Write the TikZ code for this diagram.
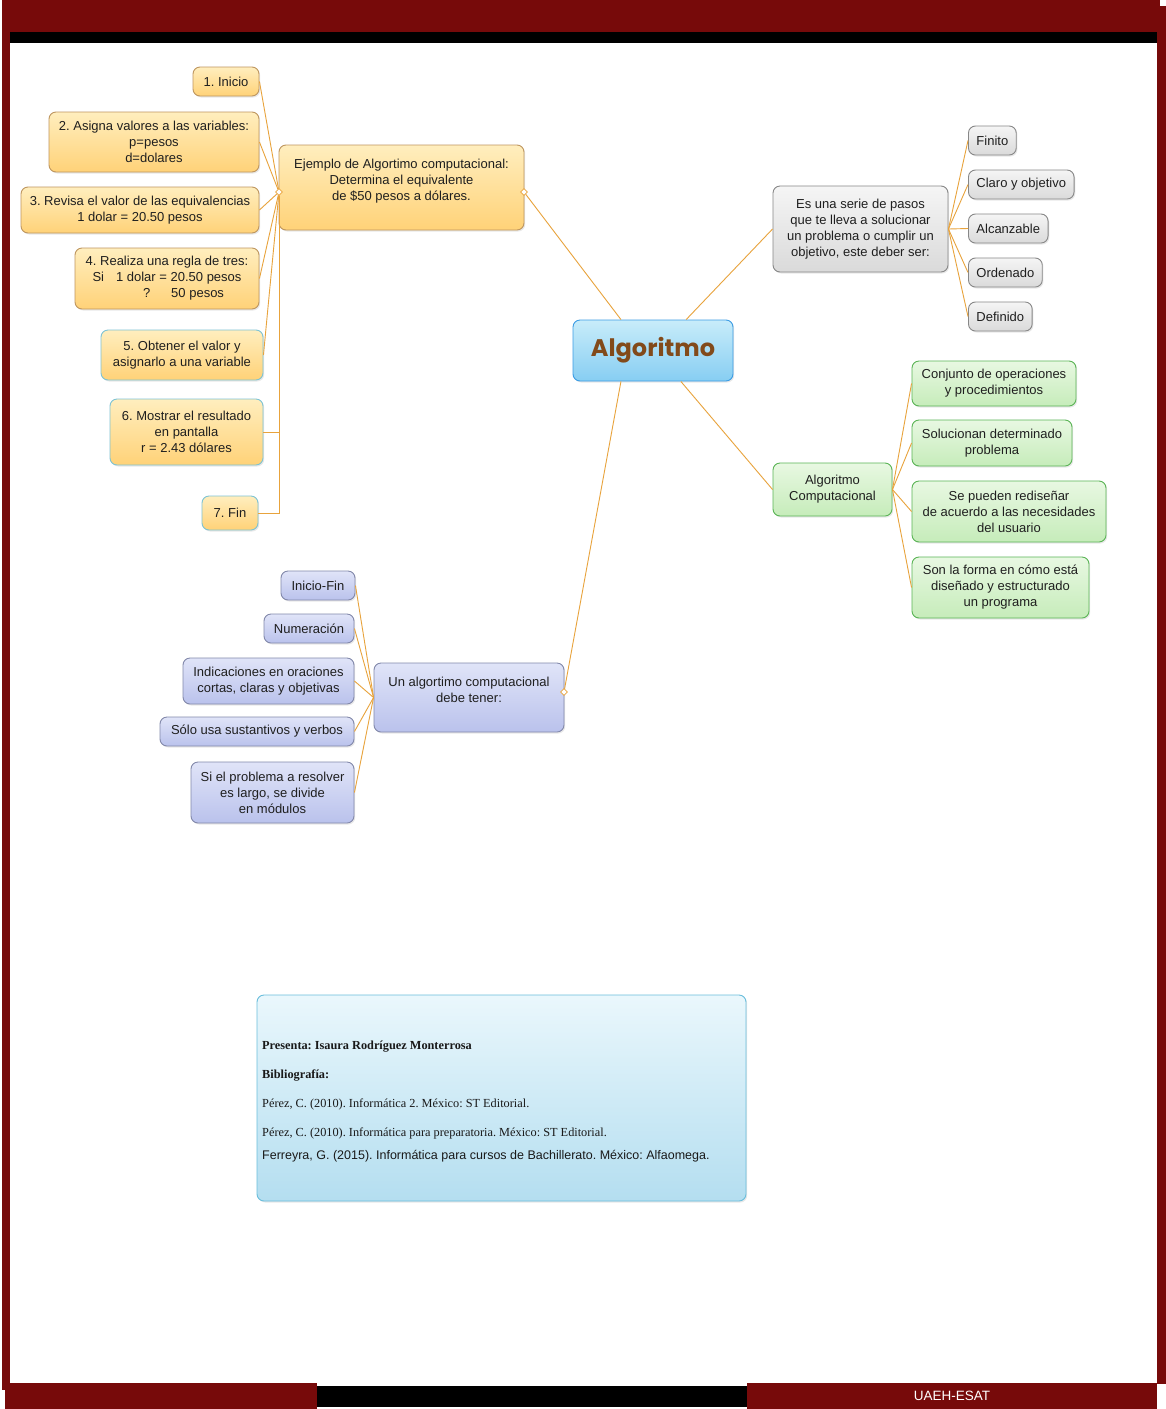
\documentclass[tikz,border=0pt]{standalone}
\usepackage{fontspec}
\setmainfont{Liberation Sans}
\newfontfamily\bibfont{Liberation Serif}
\newfontfamily\titlefont{Poppins}
\frenchspacing
\usepackage{xcolor}
\definecolor{uaehred}{RGB}{119, 10, 10}
\definecolor{linkorange}{RGB}{232, 163, 60}
\definecolor{goldtop}{RGB}{255, 238, 190}
\definecolor{goldbot}{RGB}{255, 210, 120}
\definecolor{goldedge}{RGB}{190, 150, 95}
\definecolor{tealedge}{RGB}{125, 195, 212}
\definecolor{greytop}{RGB}{245, 245, 245}
\definecolor{greybot}{RGB}{218, 218, 218}
\definecolor{greyedge}{RGB}{135, 135, 135}
\definecolor{greentop}{RGB}{232, 248, 226}
\definecolor{greenbot}{RGB}{198, 236, 186}
\definecolor{greenedge}{RGB}{90, 180, 85}
\definecolor{lilactop}{RGB}{224, 228, 248}
\definecolor{lilacbot}{RGB}{186, 194, 236}
\definecolor{lilacedge}{RGB}{130, 136, 170}
\definecolor{skytop}{RGB}{200, 236, 250}
\definecolor{skybot}{RGB}{135, 206, 242}
\definecolor{skyedge}{RGB}{60, 156, 228}
\definecolor{bibtop}{RGB}{234, 247, 252}
\definecolor{bibbot}{RGB}{180, 222, 240}
\definecolor{bibedge}{RGB}{105, 190, 220}
\definecolor{titlebrown}{RGB}{130, 74, 26}
\usepackage{tikz}
\usetikzlibrary{
    shapes.geometric,
    positioning,
    shadows
}

\begin{document}
\begin{tikzpicture}[x=1pt, y=-1pt,
    box/.style={rounded corners=7pt, line width=0.9pt, align=center, inner sep=2pt,
        font=\fontsize{13}{16}\selectfont, text=black!88,
        drop shadow={opacity=0.18, shadow xshift=1.2pt, shadow yshift=-1.5pt}},
    goldbox/.style={box, draw=goldedge, top color=goldtop, bottom color=goldbot},
    tealbox/.style={box, draw=tealedge, top color=goldtop, bottom color=goldbot},
    greybox/.style={box, draw=greyedge, top color=greytop, bottom color=greybot},
    greenbox/.style={box, draw=greenedge, top color=greentop, bottom color=greenbot},
    lilacbox/.style={box, draw=lilacedge, top color=lilactop, bottom color=lilacbot},
    leaf/.style={greybox, anchor=west, inner xsep=8pt, minimum height=29pt},
    link/.style={draw=linkorange, line width=0.9pt},
    hubmark/.style={diamond, draw=linkorange, fill=white, inner sep=0pt, minimum size=7pt, line width=0.7pt},
    bibline/.style={anchor=west, inner sep=0pt, text=black!90}
]
    \useasboundingbox (0,0) rectangle (1166,1409);

    % page frame
    \fill[white] (0,0) rectangle (1166,1409);
    \fill[uaehred] (2,0) rectangle (1160,32);
    \fill[uaehred] (1157,6) rectangle (1166,1384);
    \fill[uaehred] (2,8) rectangle (10,1390);
    \fill[black] (10,32) rectangle (1157,43);
    \fill[uaehred] (5,1383) rectangle (317,1409);
    \fill[black] (317,1386) rectangle (747,1407);
    \fill[uaehred] (747,1383) rectangle (1157,1409);
    \node[text=white, font=\fontsize{13.5}{16}\selectfont] (uaeh) at (952,1396) {UAEH-ESAT};

    % centre
    \node[box, draw=skyedge, top color=skytop, bottom color=skybot, minimum width=160pt, minimum height=61pt,
        font=\titlefont\bfseries\fontsize{24}{28}\selectfont, text=titlebrown] (algoritmo) at (653,350.5) {Algoritmo};

    % example steps
    \node[goldbox, minimum width=245pt, minimum height=85pt] (ejemplo) at (401.5,187.5)
        {Ejemplo de Algortimo computacional:\\Determina el equivalente\\de \$50 pesos a dólares.\\\mbox{}};
    \node[goldbox, minimum width=66pt, minimum height=29pt] (inicio) at (226,81.5) {1. Inicio};
    \node[goldbox, minimum width=210pt, minimum height=60pt] (asigna) at (154,142)
        {2. Asigna valores a las variables:\\p=pesos\\d=dolares};
    \node[goldbox, minimum width=238pt, minimum height=46pt] (revisa) at (140,210)
        {3. Revisa el valor de las equivalencias\\1 dolar = 20.50 pesos};
    \node[goldbox, minimum width=184pt, minimum height=61pt] (realiza) at (167,278.5)
        {4. Realiza una regla de tres:\\Si\hspace{12pt}1 dolar = 20.50 pesos\\\hspace*{33pt}?\hspace{21pt}50 pesos};
    \node[tealbox, minimum width=162pt, minimum height=50pt] (obtener) at (182,355)
        {5. Obtener el valor y\\asignarlo a una variable};
    \node[tealbox, minimum width=153pt, minimum height=66pt] (mostrar) at (186.5,432)
        {6. Mostrar el resultado\\en pantalla\\r = 2.43 dólares};
    \node[tealbox, minimum width=56pt, minimum height=34pt] (fin) at (230,513) {7. Fin};
    \node[hubmark] (ejl) at (279,192) {};
    \node[hubmark] (ejr) at (524,192) {};

    % definition
    \node[greybox, minimum width=175pt, minimum height=86pt] (serie) at (860.5,229)
        {Es una serie de pasos\\que te lleva a solucionar\\un problema o cumplir un\\objetivo, este deber ser:};
    \node[leaf] (finito) at (968,140.5) {Finito};
    \node[leaf] (claro) at (968,184.5) {Claro y objetivo};
    \node[leaf] (alcanzable) at (968,228.5) {Alcanzable};
    \node[leaf] (ordenado) at (968,272.5) {Ordenado};
    \node[leaf] (definido) at (968,316.5) {Definido};

    % computational algorithm
    \node[greenbox, minimum width=119pt, minimum height=53pt] (compu) at (832.5,489.5)
        {Algoritmo\\Computacional};
    \node[greenbox, minimum width=164pt, minimum height=45pt] (conjunto) at (994,383.5)
        {Conjunto de operaciones\\y procedimientos};
    \node[greenbox, minimum width=160pt, minimum height=46pt] (solucionan) at (992,443)
        {Solucionan determinado\\problema};
    \node[greenbox, minimum width=194pt, minimum height=61pt] (redisenar) at (1009,511.5)
        {Se pueden rediseñar\\de acuerdo a las necesidades\\del usuario};
    \node[greenbox, minimum width=177pt, minimum height=61pt] (forma) at (1000.5,587.5)
        {Son la forma en cómo está\\diseñado y estructurado\\un programa};

    % what it must have
    \node[lilacbox, minimum width=190pt, minimum height=69pt] (tener) at (469,697.5)
        {Un algortimo computacional\\debe tener:\\\mbox{}};
    \node[lilacbox, minimum width=74pt, minimum height=29pt] (iniciofin) at (318,585.5) {Inicio-Fin};
    \node[lilacbox, minimum width=90pt, minimum height=29pt] (numeracion) at (309,628.5) {Numeración};
    \node[lilacbox, minimum width=171pt, minimum height=46pt] (indicaciones) at (268.5,681)
        {Indicaciones en oraciones\\cortas, claras y objetivas};
    \node[lilacbox, minimum width=194pt, minimum height=29pt] (solo) at (257,731.5) {Sólo usa sustantivos y verbos};
    \node[lilacbox, minimum width=163pt, minimum height=61pt] (siel) at (272.5,792.5)
        {Si el problema a resolver\\es largo, se divide\\en módulos};
    \node[hubmark] (tenr) at (564,692) {};

    % connectors
    \draw[link] (algoritmo.136) -- (ejr);
    \draw[link] (algoritmo.43) -- (serie.west);
    \draw[link] (algoritmo.-48) -- (compu.west);
    \draw[link] (algoritmo.224) -- (tenr);
    \foreach \s in {inicio,asigna,revisa,realiza,obtener}
        \draw[link] (\s.east) -- (ejl);
    \draw[link] (ejl) |- (mostrar.east);
    \draw[link] (ejl) |- (fin.east);
    \foreach \s in {finito,claro,alcanzable,ordenado,definido}
        \draw[link] (serie.east) -- (\s.west);
    \foreach \s in {conjunto,solucionan,redisenar,forma}
        \draw[link] (compu.east) -- (\s.west);
    \foreach \s in {iniciofin,numeracion,indicaciones,solo,siel}
        \draw[link] (tener.west) -- (\s.east);

    % credits
    \node[box, draw=bibedge, top color=bibtop, bottom color=bibbot, minimum width=489pt, minimum height=206pt] (biblio) at (501.5,1098) {};
    \node[bibline, font=\bibfont\bfseries\fontsize{12.3}{14}\selectfont] (presenta) at (262,1047) {Presenta: Isaura Rodríguez Monterrosa};
    \node[bibline, font=\bibfont\bfseries\fontsize{12.3}{14}\selectfont] (bibtitle) at (262,1076) {Bibliografía:};
    \node[bibline, font=\bibfont\fontsize{12.3}{14}\selectfont] (perez1) at (262,1104) {Pérez, C. (2010). Informática 2. México: ST Editorial.};
    \node[bibline, font=\bibfont\fontsize{12.3}{14}\selectfont] (perez2) at (262,1133) {Pérez, C. (2010). Informática para preparatoria. México: ST Editorial.};
    \node[bibline, font=\fontsize{12.5}{15}\selectfont] (ferreyra) at (262,1156) {Ferreyra, G. (2015). Informática para cursos de Bachillerato. México: Alfaomega.};
\end{tikzpicture}
\end{document}
